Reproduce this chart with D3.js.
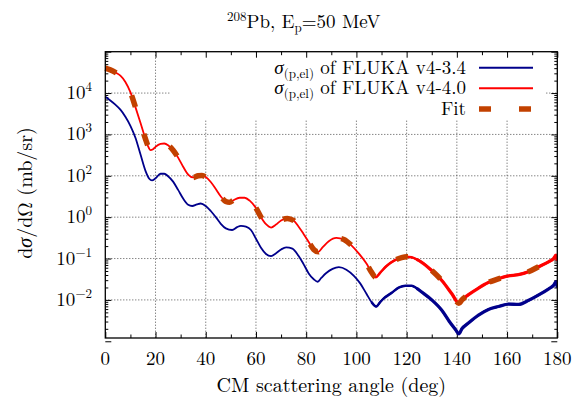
<!DOCTYPE html>
<html><head><meta charset="utf-8">
<script src="https://cdn.jsdelivr.net/npm/d3@7"></script>
<style>body{margin:0;background:#fff}svg{display:block}</style>
</head><body><svg id="c" width="581" height="400"></svg>
<script>
// ---- data ----
const redAngles = [0,2,4,6,8,10,12,14,16,17,18,19,20,22,23.5,25,27,29,31,33,35,37,38.5,40,42,44,46,48,49.5,51,53.5,55.5,57.5,60,62,64,66,68,70,72.5,75,77,79,81,83,84.8,86.5,89,92,95,98,101,104,106,107.7,109.5,112,115,118,120,122,124,126,130,134,138,140.8,142,144.5,148.5,152.5,156.5,160.5,164.5,168.5,172.5,176.5,178.5,179.5,180];
const redValues = [3.98e4,3.63e4,3.16e4,2.63e4,1.86e4,1.05e4,4570,1910,776,525,417,437,501,589,603,550,417,275,166,107,91.2,100,102,93.3,70.8,47.9,31.6,24.0,22.9,25.7,29.5,29.5,25.1,16.6,10.0,6.76,5.62,6.61,8.32,9.33,8.32,5.89,3.89,2.51,1.66,1.45,1.86,2.63,3.16,2.88,2.09,1.32,0.759,0.468,0.355,0.457,0.661,0.891,1.05,1.10,1.07,0.955,0.813,0.513,0.295,0.141,0.0832,0.100,0.132,0.191,0.263,0.324,0.380,0.407,0.479,0.631,0.832,1.00,1.20,0.891];
const blueAngles = [0,2,4,6,8,10,12,14,16,17.5,18.6,20,22,23.5,25,27,29,31,33,34.6,36.5,38,40,42,44,46,48,50.5,52.5,54,56,58,60,62,64,66,68,70,72,74.5,77,79,81,83,84.6,86,88,90.5,93,96,99,101.5,104,106,107.9,109.5,111,114,117,119.5,122,124,126,130,134,137,139.5,140.8,142,144.6,148.6,152.6,156.6,160.6,164.6,168.6,172.6,176.6,178.5,179.5,180];
const blueValues = [8130,6610,5250,3980,2690,1620,832,331,132,85.1,77.6,87.1,112,112,97.7,72.4,45.7,28.2,20.0,18.6,20.4,21.4,18.6,14.1,10.0,6.92,5.37,4.90,5.75,6.17,5.89,4.90,3.02,1.82,1.29,1.15,1.35,1.66,1.86,1.74,1.15,0.724,0.437,0.316,0.275,0.339,0.447,0.562,0.617,0.537,0.380,0.251,0.141,0.0891,0.0692,0.0891,0.110,0.148,0.200,0.219,0.219,0.191,0.155,0.100,0.0562,0.0302,0.0191,0.0151,0.0200,0.0275,0.0427,0.0589,0.0692,0.0794,0.0776,0.0977,0.132,0.186,0.224,0.275,0.200];
const fitAngles = [0,2,4,6,8,10,12,14,16,17,18,19,20,22,23.5,25,27,29,31,33,35,37,38.5,40,42,44,46,48,49.5,51,53.5,55.5,57.5,60,62,64,66,68,70,72.5,75,77,79,81,83,84.8,86.5,89,92,95,98,101,104,106,107.7,109.5,112,115,118,120,122,124,126,130,134,138,140.8,142,144.5,148.5,152.5,156.5,160.5,164.5,168.5,172.5,176.5,180];
const fitValues = [3.98e4,3.63e4,3.16e4,2.63e4,1.86e4,1.05e4,4570,1910,776,525,417,437,501,589,603,550,417,275,166,107,91.2,100,102,93.3,70.8,47.9,31.6,24.0,22.9,25.7,29.5,29.5,25.1,16.6,10.0,6.76,5.62,6.61,8.32,9.33,8.32,5.89,3.89,2.51,1.66,1.45,1.86,2.63,3.16,2.88,2.09,1.32,0.759,0.468,0.355,0.457,0.661,0.891,1.05,1.10,1.07,0.955,0.813,0.513,0.295,0.141,0.0832,0.100,0.132,0.191,0.263,0.324,0.380,0.407,0.479,0.631,0.832,1.05];
const xTicks = [0,20,40,60,80,100,120,140,160,180];
const xMinorTicks = [10,30,50,70,90,110,130,150,170];
const yTicks = [1e4,1e3,1e2,1e1,1e0,1e-1];
const yTickExponents = ["4","3","2","0","\u22121","\u22122"];
const legendLabels = ["of FLUKA v4-3.4","of FLUKA v4-4.0","Fit"];

// ---- layout ----
const FONT = '"Latin Modern Roman","CMU Serif","Liberation Serif",serif';
const svg = d3.select("#c");
const L = 105.3, R = 557.3, T = 51.7, B = 338;
const x = d3.scaleLinear().domain([0,180]).range([L,R]);
const y = d3.scaleLog().domain([0.012,1e5]).range([B,T]);

const yMinor = [];
for (let e = -2; e <= 4; e++) for (let m = 2; m <= 9; m++) { const v = m*Math.pow(10,e); if (v>=0.012 && v<=1e5) yMinor.push(v); }

// grid
const grid = svg.append("g").attr("stroke","#000").attr("stroke-width",0.8).attr("stroke-dasharray","1,2").attr("opacity",0.85);
grid.selectAll(".gx").data(xTicks.filter(d=>d>0&&d<180)).join("line")
  .attr("x1",d=>x(d)).attr("x2",d=>x(d)).attr("y1",T).attr("y2",B);
grid.selectAll(".gy").data(yTicks).join("line")
  .attr("x1",L).attr("x2",R).attr("y1",d=>y(d)).attr("y2",d=>y(d));

// legend background (hides grid)
svg.append("rect").attr("x",170).attr("y",T+0.5).attr("width",375).attr("height",67).attr("fill","#fff");

// axes (inward ticks)
const ax = (gen, tx, ty) => svg.append("g").attr("transform",`translate(${tx},${ty})`).call(gen)
  .call(g=>{g.select(".domain").remove(); g.selectAll("text").remove(); g.selectAll("line").attr("stroke","#000").attr("stroke-width",1);});
ax(d3.axisBottom(x).tickValues(xTicks).tickSize(-6), 0, B);
ax(d3.axisBottom(x).tickValues(xMinorTicks).tickSize(-3.5), 0, B);
ax(d3.axisTop(x).tickValues(xTicks).tickSize(-6), 0, T);
ax(d3.axisTop(x).tickValues(xMinorTicks).tickSize(-3.5), 0, T);
ax(d3.axisLeft(y).tickValues(yTicks.concat([1e-2,1e5])).tickSize(-6), L, 0);
ax(d3.axisLeft(y).tickValues(yMinor).tickSize(-3), L, 0);
ax(d3.axisRight(y).tickValues(yTicks.concat([1e-2,1e5])).tickSize(-6), R, 0);
ax(d3.axisRight(y).tickValues(yMinor).tickSize(-3), R, 0);

const txt = (sel) => sel.append("text").style("font-family",FONT).attr("fill","#000");

// tick labels
const xl = svg.append("g");
xTicks.forEach(d=>txt(xl).attr("x",x(d)).attr("y",365).attr("text-anchor","middle").attr("font-size",19).text(d));
const ylg = svg.append("g");
yTicks.forEach((d,i)=>{
  const t = txt(ylg).attr("x",92).attr("y",y(d)+6).attr("text-anchor","end").attr("font-size",19);
  t.append("tspan").text("10");
  t.append("tspan").attr("dy",-8).attr("font-size",13).text(yTickExponents[i]);
});

// curves
const line = d3.line().x(d=>x(d[0])).y(d=>y(d[1])).curve(d3.curveMonotoneX);
svg.append("clipPath").attr("id","pc").append("rect").attr("x",L-3).attr("y",T).attr("width",R-L+3).attr("height",B-T);
const plot = svg.append("g").attr("clip-path","url(#pc)");
const blue = d3.zip(blueAngles, blueValues), red = d3.zip(redAngles, redValues), fit = d3.zip(fitAngles, fitValues);
const addCurve = (data, color) => {
  plot.append("path").datum(data).attr("d",line).attr("fill","none").attr("stroke",color).attr("stroke-width",1.8);
  plot.append("path").datum(data.filter(d=>d[0]>=106)).attr("d",line).attr("fill","none").attr("stroke",color).attr("stroke-width",2.5);
  plot.append("path").datum(data.filter(d=>d[0]>=124)).attr("d",line).attr("fill","none").attr("stroke",color).attr("stroke-width",3.3).attr("stroke-opacity",0.9);
};
addCurve(blue, "#00008b");
addCurve(red, "#ff0000");
plot.append("path").datum(fit).attr("d",line).attr("fill","none").attr("stroke","#c24100")
  .attr("stroke-width",5.5).attr("stroke-dasharray","12,28");

// frame
svg.append("rect").attr("x",L).attr("y",T).attr("width",R-L).attr("height",B-T).attr("fill","none").attr("stroke","#000").attr("stroke-width",1.3);

// legend
const lg = svg.append("g");
const rowsY = [67.7, 88.3, 109];
const colors = ["#00008b","#ff0000","#c24100"];
legendLabels.forEach((lab,i)=>{
  const t = txt(lg).attr("x",466).attr("y",rowsY[i]+6).attr("text-anchor","end").attr("font-size",19);
  if (i<2) {
    t.append("tspan").attr("font-style","italic").text("\u03c3");
    t.append("tspan").attr("font-size",13).attr("dy",4).text("(p,el)");
    t.append("tspan").attr("dy",-4).text(" "+lab);
  } else t.text(lab);
  lg.append("line").attr("x1",479).attr("x2",533).attr("y1",rowsY[i]).attr("y2",rowsY[i])
    .attr("stroke",colors[i]).attr("stroke-width",i<2?2:5.5).attr("stroke-dasharray",i<2?null:"12,28");
});

// title
const tt = txt(svg).attr("x",227).attr("y",28).attr("font-size",19);
tt.append("tspan").attr("font-size",13).attr("dy",-7).text("208");
tt.append("tspan").attr("dy",7).text("Pb, E");
tt.append("tspan").attr("font-size",13).attr("dy",4).text("p");
tt.append("tspan").attr("dy",-4).text("=50 MeV");

// axis titles
txt(svg).attr("x",x(90)).attr("y",392).attr("text-anchor","middle").attr("font-size",20).text("CM scattering angle (deg)");
const yt = txt(svg).attr("transform","translate(32,193) rotate(-90)").attr("text-anchor","middle").attr("font-size",20);
yt.append("tspan").text("d");
yt.append("tspan").attr("font-style","italic").text("\u03c3");
yt.append("tspan").text("/d\u03a9 (mb/sr)");
</script></body></html>
